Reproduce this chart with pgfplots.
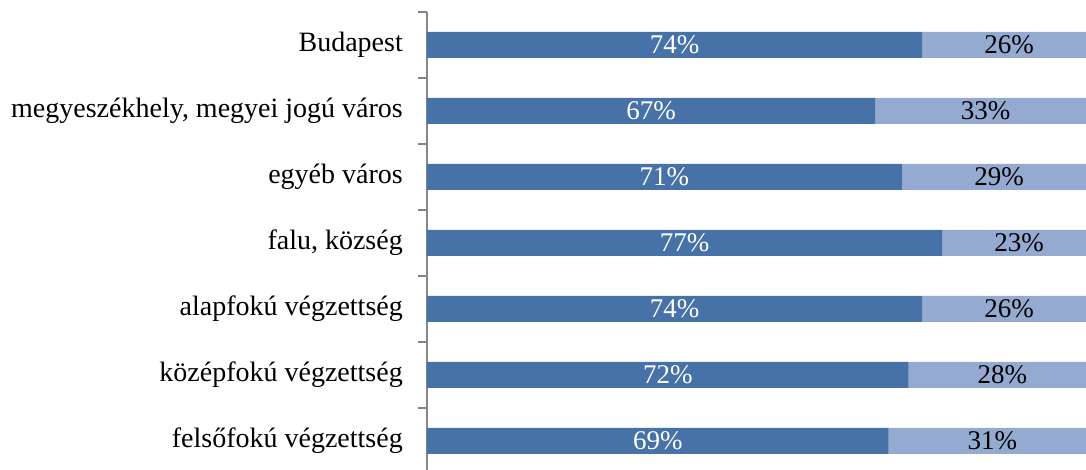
\documentclass[border=0pt]{standalone}
\usepackage{fontspec}
\setmainfont{Liberation Serif}
\usepackage{pgfplots}
\usepackage{pgfplotstable}
\pgfplotsset{compat=1.18}
\definecolor{darkbar}{RGB}{70,114,167}
\definecolor{lightbar}{RGB}{149,170,209}
\definecolor{axisgray}{RGB}{134,134,134}

\pgfplotstableread{
cat a  b
0   74 26
1   67 33
2   71 29
3   77 23
4   74 26
5   72 28
6   69 31
}\datatable

\begin{document}
\begin{tikzpicture}
\begin{axis}[
    xbar stacked,
    scale only axis,
    width=669pt,
    height=458pt,
    xmin=0, xmax=100,
    ymin=-0.5, ymax=6.44,
    y dir=reverse,
    bar width=26pt,
    axis x line=none,
    axis y line*=left,
    y axis line style={axisgray, line width=1.5pt, -},
    ytick={0,...,6},
    yticklabels={Budapest, {megyeszékhely, megyei jogú város}, egyéb város, {falu, község}, alapfokú végzettség, középfokú végzettség, felsőfokú végzettség},
    minor ytick={-0.5,0.5,...,6.5},
    major tick length=0pt,
    minor tick length=9pt,
    tick align=outside,
    minor tick style={axisgray, line width=1.5pt},
    yticklabel style={font=\fontsize{28}{32}\selectfont, inner sep=0pt, anchor=east, xshift=-24pt},
    point meta=explicit,
    /pgf/number format/assume math mode=true,
    nodes near coords={\pgfmathprintnumber{\pgfplotspointmeta}\%},
    every node near coord/.append style={font=\fontsize{27}{32}\selectfont},
]
\addplot[fill=darkbar, draw=none,
    every node near coord/.append style={text=white}]
    table[x=a, y=cat, meta=a] {\datatable};
\addplot[fill=lightbar, draw=none,
    every node near coord/.append style={text=black}]
    table[x=b, y=cat, meta=b] {\datatable};
\end{axis}
\pgfresetboundingbox
\path[use as bounding box] ([xshift=-427pt,yshift=12pt]current axis.north west) rectangle ([xshift=659pt]current axis.south west);
\end{tikzpicture}
\end{document}
